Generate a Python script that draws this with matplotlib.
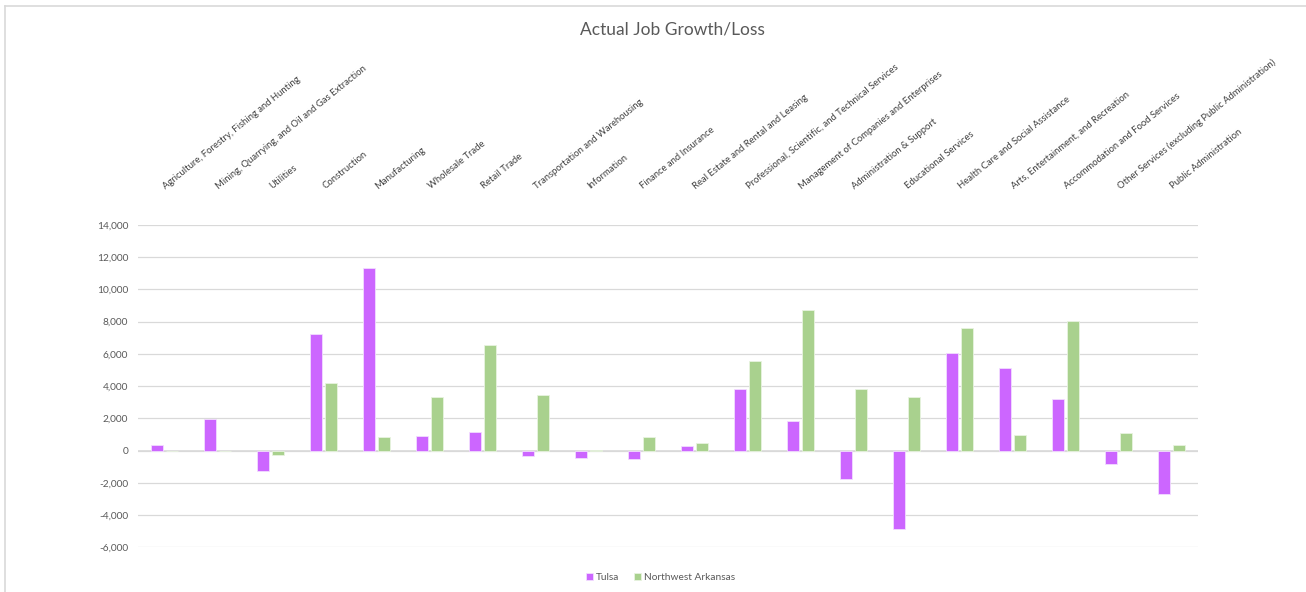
import numpy as np
import matplotlib
matplotlib.use("Agg")
import matplotlib.pyplot as plt
from matplotlib.lines import Line2D

plt.rcParams['font.family'] = ['Lato', 'DejaVu Sans']

industries = [
    "Agriculture, Forestry, Fishing and Hunting",
    "Mining, Quarrying, and Oil and Gas Extraction",
    "Utilities",
    "Construction",
    "Manufacturing",
    "Wholesale Trade",
    "Retail Trade",
    "Transportation and Warehousing",
    "Information",
    "Finance and Insurance",
    "Real Estate and Rental and Leasing",
    "Professional, Scientific, and Technical Services",
    "Management of Companies and Enterprises",
    "Administration & Support",
    "Educational Services",
    "Health Care and Social Assistance",
    "Arts, Entertainment, and Recreation",
    "Accommodation and Food Services",
    "Other Services (excluding Public Administration)",
    "Public Administration",
]

tulsa = [330, 1960, -1240, 7250, 11300, 930, 1180, -330, -475, -540,
         270, 3800, 1820, -1740, -4840, 6050, 5120, 3200, -810, -2710]
nwa = [-50, -40, -270, 4170, 830, 3310, 6530, 3430, 20, 870,
       450, 5540, 8740, 3820, 3330, 7580, 970, 8060, 1100, 370]

yticks = np.arange(-6000, 14001, 2000)

grey = '#595959'
fig = plt.figure(figsize=(13.06, 5.92), dpi=100)
ax = fig.add_axes([0.1057, 0.0752, 0.8116, 0.5452])

x = np.arange(len(industries)) + 0.5
w = 0.225
ax.bar(x - 0.142, tulsa, w, color='#CC66FF', edgecolor='#f2dcff', linewidth=0.6, label='Tulsa', zorder=3)
ax.bar(x + 0.142, nwa, w, color='#A9D18E', edgecolor='#e8f3e0', linewidth=0.6, label='Northwest Arkansas', zorder=3)

ax.set_xlim(0, len(industries))
ax.set_ylim(-6000, 14000)
ax.set_yticks(yticks)
ax.set_yticklabels([f"{v:,}" for v in yticks], fontsize=7.3, color=grey)
ax.yaxis.grid(True, color='#d9d9d9', linewidth=0.9, zorder=0)
ax.tick_params(axis='y', length=0, pad=7)

ax.xaxis.tick_top()
ax.set_xticks(x)
ax.set_xticklabels(industries, rotation=39, ha='left', va='center',
                   rotation_mode='anchor', fontsize=6.8, color='#404040')
ax.tick_params(axis='x', length=0, pad=27)

for s in ax.spines.values():
    s.set_visible(False)
ax.axhline(0, color='#d9d9d9', linewidth=1.2, zorder=2)

fig.text(0.515, 0.951, "Actual Job Growth/Loss", ha='center', va='center',
         fontsize=12.5, color=grey)

ax.legend(loc='center', bbox_to_anchor=(0.493, -0.092), ncol=2, frameon=False,
          fontsize=7.3, handlelength=0.7, handleheight=0.7, handletextpad=0.3,
          columnspacing=1.5, labelcolor=grey)

# chart border (top and left visible)
fig.add_artist(Line2D([5 / 1306, 1], [1 - 6 / 592, 1 - 6 / 592], color='#d9d9d9', linewidth=1.2))
fig.add_artist(Line2D([5 / 1306, 5 / 1306], [0, 1 - 6 / 592], color='#d9d9d9', linewidth=1.2))

fig.savefig('out.png', dpi=100)
